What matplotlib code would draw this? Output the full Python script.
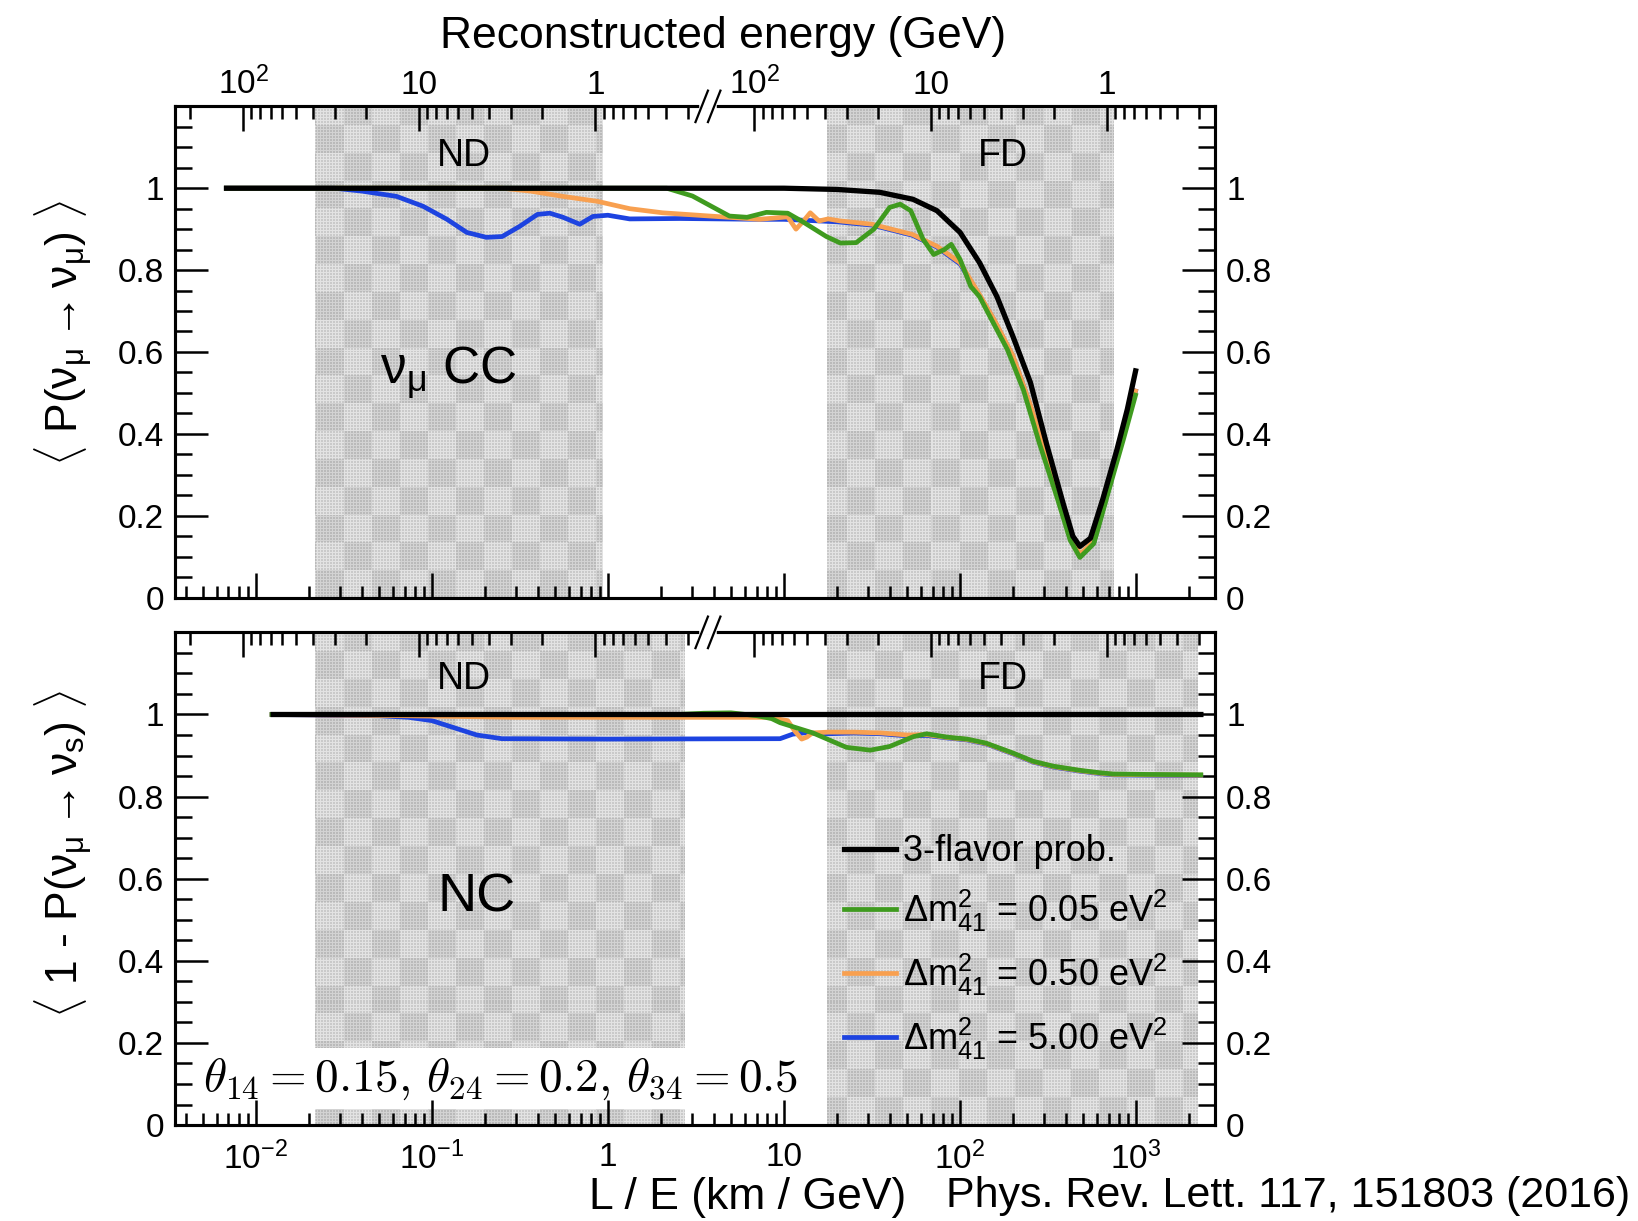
import numpy as np
import matplotlib
matplotlib.use('Agg')
import matplotlib.pyplot as plt
from matplotlib.patches import Rectangle
from matplotlib.lines import Line2D
from matplotlib.ticker import (FixedLocator, FixedFormatter, LogLocator,
                               NullFormatter, FuncFormatter)

plt.rcParams['font.family'] = ['Liberation Sans', 'DejaVu Sans']
plt.rcParams['mathtext.fontset'] = 'custom'
plt.rcParams['mathtext.rm'] = 'Liberation Sans'
plt.rcParams['mathtext.it'] = 'Liberation Sans:italic'
plt.rcParams['mathtext.bf'] = 'Liberation Sans:bold'

# ---- numu CC disappearance: L/E (km/GeV) vs <P(numu -> numu)> ----
cc_le_3f = [0.0066, 10, 20, 35, 54, 74, 100, 129, 162, 200, 251, 309, 385, 437,
            479, 550, 646, 776, 891, 1000]
cc_p_3f = [1.0, 1.0, 0.997, 0.99, 0.973, 0.945, 0.892, 0.818, 0.735, 0.637, 0.525,
           0.377, 0.23, 0.15, 0.125, 0.145, 0.24, 0.36, 0.46, 0.56]

cc_le_005 = [0.0066, 2.16, 3.02, 3.98, 4.9, 6.17, 7.94, 10.5, 12.9, 17.4, 20.9,
             25.7, 32.4, 39.8, 45.7, 52.5, 61.7, 70.8, 81.3, 89.1, 100, 115, 129,
             148, 186, 229, 282, 355, 422, 479, 575, 708, 851, 1000]
cc_p_005 = [1.0, 1.0, 0.981, 0.953, 0.932, 0.929, 0.941, 0.939, 0.917, 0.882, 0.866,
            0.867, 0.9, 0.953, 0.961, 0.945, 0.875, 0.838, 0.85, 0.863, 0.826, 0.76,
            0.735, 0.686, 0.605, 0.507, 0.377, 0.245, 0.14, 0.098, 0.132, 0.27, 0.39,
            0.50]

cc_le_050 = [0.0066, 0.251, 0.363, 0.556, 0.871, 1.33, 2.04, 3.8, 7.24, 10.5, 11.7,
             12.9, 14.1, 15.8, 17.8, 20.9, 31.6, 53.7, 74.1, 100, 129, 158, 200, 251,
             316, 398, 479, 575, 708, 851, 1000]
cc_p_050 = [1.0, 1.0, 0.993, 0.98, 0.968, 0.95, 0.94, 0.932, 0.924, 0.93, 0.90, 0.92,
            0.94, 0.92, 0.925, 0.92, 0.912, 0.887, 0.858, 0.818, 0.74, 0.675, 0.59,
            0.47, 0.33, 0.19, 0.105, 0.138, 0.278, 0.40, 0.51]

cc_le_500 = [0.0066, 0.028, 0.04, 0.0631, 0.0891, 0.122, 0.158, 0.204, 0.251, 0.316,
             0.398, 0.468, 0.556, 0.692, 0.822, 1.0, 1.33, 2.57, 7.24, 10, 20, 31.6,
             53.7, 74.1, 100, 129, 158, 200, 251, 316, 398, 479, 575, 708, 851, 1000]
cc_p_500 = [1.0, 1.0, 0.993, 0.98, 0.956, 0.924, 0.892, 0.88, 0.882, 0.907, 0.936,
            0.939, 0.929, 0.912, 0.931, 0.934, 0.925, 0.926, 0.924, 0.924, 0.918, 0.91,
            0.885, 0.856, 0.815, 0.738, 0.673, 0.588, 0.468, 0.33, 0.19, 0.10, 0.135,
            0.275, 0.40, 0.51]

# ---- NC: L/E (km/GeV) vs <1 - P(numu -> nus)> ----
nc_le_3f = [0.012, 2400]
nc_p_3f = [1.0, 1.0]

nc_le_005 = [0.012, 2.5, 3.5, 5, 7, 8.5, 9.5, 14.6, 22.6, 30.9, 39.8, 54.3, 64.6, 84,
             110, 141, 200, 260, 339, 479, 624, 741, 1150, 2400]
nc_p_005 = [1.0, 1.0, 1.003, 1.004, 0.997, 0.99, 0.98, 0.955, 0.92, 0.913, 0.922,
            0.946, 0.953, 0.945, 0.94, 0.93, 0.906, 0.886, 0.874, 0.864, 0.858, 0.855,
            0.854, 0.853]

nc_le_050 = [0.012, 0.07, 0.3, 8, 10.5, 11.5, 12.6, 13.5, 14.5, 17.8, 25, 35.5, 50,
             64.6, 84, 110, 141, 200, 260, 339, 479, 624, 741, 1150, 2400]
nc_p_050 = [1.0, 0.997, 0.993, 0.993, 0.985, 0.96, 0.94, 0.945, 0.955, 0.957, 0.957,
            0.955, 0.95, 0.951, 0.944, 0.939, 0.929, 0.905, 0.885, 0.873, 0.863, 0.857,
            0.854, 0.853, 0.852]

nc_le_500 = [0.012, 0.05, 0.074, 0.1, 0.14, 0.18, 0.25, 1, 9.5, 11.2, 13, 17.8, 25,
             35.5, 50, 64.6, 84, 110, 141, 200, 260, 339, 479, 624, 741, 1150, 2400]
nc_p_500 = [1.0, 0.997, 0.993, 0.985, 0.965, 0.95, 0.941, 0.94, 0.941, 0.952, 0.955,
            0.953, 0.955, 0.953, 0.948, 0.949, 0.943, 0.938, 0.928, 0.904, 0.884, 0.872,
            0.862, 0.856, 0.853, 0.852, 0.851]

# detector acceptance bands in L/E
cc_nd_band = (0.0216, 0.925)
cc_fd_band = (17.5, 740)
nc_nd_band = (0.0216, 2.7)
nc_fd_band = (17.5, 2230)

# reconstructed-energy axis (GeV), baselines in km, axis break in L/E
L_ND = 0.85
L_FD = 680
le_break = 3.7
e_major = [100, 10, 1]
e_major_labels = ['$10^{2}$', '10', '1']
e_minor = [200, 90, 80, 70, 60, 50, 40, 30, 20, 9, 8, 7, 6, 5, 4, 3, 2,
           0.9, 0.8, 0.7, 0.6, 0.5, 0.4, 0.3]

le_major = [1e-2, 1e-1, 1, 10, 1e2, 1e3]
le_major_labels = ['$10^{-2}$', '$10^{-1}$', '1', '10', '$10^{2}$', '$10^{3}$']
y_major = [0, 0.2, 0.4, 0.6, 0.8, 1.0]
y_minor = [i * 0.05 for i in range(24)]

legend_labels = ['3-flavor prob.',
                 r'$\Delta\mathrm{m}^{2}_{41}$ = 0.05 eV$^{2}$',
                 r'$\Delta\mathrm{m}^{2}_{41}$ = 0.50 eV$^{2}$',
                 r'$\Delta\mathrm{m}^{2}_{41}$ = 5.00 eV$^{2}$']

C_3F = 'black'
C_005 = '#3f9b1f'
C_050 = '#f8a050'
C_500 = '#1d43e0'
LW_3F = 3.8
LW_4F = 3.4
XLIM = (0.0035, 2800)
YLIM = (0, 1.2)

fig = plt.figure(figsize=(16.38, 12.21), dpi=100)
ax1 = fig.add_axes([0.1071, 0.5106, 0.6346, 0.4023])
ax2 = fig.add_axes([0.1071, 0.0786, 0.6346, 0.4035])


def fill_texture(h, w):
    # light plaid fill: coarse checker blocks with a fine grid on top
    ii, jj = np.mgrid[0:h, 0:w]
    block = ((ii // 28) + (jj // 28)) % 2
    fine = (ii % 3 == 0) | (jj % 3 == 0)
    val = np.where(block == 1, 0.73, 0.79) + np.where(fine, 0.10, 0.0)
    return np.clip(val, 0, 1)


TEX = fill_texture(495, 1040)


def shade(ax, band):
    im = ax.imshow(TEX, cmap='gray', vmin=0, vmax=1, extent=(0, 1, 0, 1),
                   transform=ax.transAxes, interpolation='nearest', aspect='auto',
                   origin='lower', zorder=0.5)
    clip = Rectangle((band[0], 0), band[1] - band[0], 1,
                     transform=ax.get_xaxis_transform())
    im.set_clip_path(clip)


def setup_panel(ax, label_bottom, label_top):
    ax.set_xscale('log')
    ax.set_xlim(*XLIM)
    ax.set_ylim(*YLIM)
    ax.xaxis.set_major_locator(FixedLocator(le_major))
    ax.xaxis.set_major_formatter(FixedFormatter(le_major_labels))
    ax.xaxis.set_minor_locator(LogLocator(base=10, subs=np.arange(2, 10), numticks=100))
    ax.xaxis.set_minor_formatter(NullFormatter())
    ax.yaxis.set_major_locator(FixedLocator(y_major))
    ax.yaxis.set_minor_locator(FixedLocator(y_minor))
    ax.yaxis.set_major_formatter(FuncFormatter(lambda v, p: f'{v:g}'))
    ax.tick_params(axis='y', which='both', direction='in', left=True, right=True,
                   labelleft=True, labelright=True, labelsize=24, width=1.8)
    ax.tick_params(axis='y', which='major', length=24, pad=8)
    ax.tick_params(axis='y', which='minor', length=12)
    ax.tick_params(axis='x', which='both', direction='in', bottom=True, top=False,
                   labelbottom=label_bottom, labelsize=24, width=1.8, pad=12)
    ax.tick_params(axis='x', which='major', length=18)
    ax.tick_params(axis='x', which='minor', length=9)
    for s in ax.spines.values():
        s.set_linewidth(2.2)

    # reconstructed energy on top: near detector left of the break, far detector right
    ax_e = ax.twiny()
    ax_e.set_xscale('log')
    ax_e.set_xlim(*XLIM)
    maj_pos, maj_lab = [], []
    for L, keep in ((L_ND, lambda v: v < le_break), (L_FD, lambda v: v > le_break)):
        for e, lab in zip(e_major, e_major_labels):
            if keep(L / e):
                maj_pos.append(L / e)
                maj_lab.append(lab)
    min_pos = [L_ND / e for e in e_minor if L_ND / e < le_break]
    min_pos += [L_FD / e for e in e_minor if L_FD / e > le_break]
    ax_e.xaxis.set_major_locator(FixedLocator(maj_pos))
    ax_e.xaxis.set_major_formatter(FixedFormatter(maj_lab))
    ax_e.xaxis.set_minor_locator(FixedLocator(min_pos))
    ax_e.xaxis.set_minor_formatter(NullFormatter())
    ax_e.tick_params(axis='x', which='both', direction='in', top=True,
                     labeltop=label_top, labelsize=24, width=1.8, pad=4)
    ax_e.tick_params(axis='x', which='major', length=18)
    ax_e.tick_params(axis='x', which='minor', length=9)
    for s in ax_e.spines.values():
        s.set_linewidth(2.2)

    # break marks on the energy axis
    xb = (np.log10(le_break) - np.log10(XLIM[0])) / (np.log10(XLIM[1]) - np.log10(XLIM[0]))
    ax_e.plot([xb - 0.006, xb + 0.006], [1.0, 1.0], transform=ax_e.transAxes,
              color='white', lw=4, clip_on=False, zorder=5)
    for dx in (-0.006, 0.006):
        ax_e.plot([xb + dx - 0.006, xb + dx + 0.006], [0.968, 1.032],
                  transform=ax_e.transAxes, color='black', lw=1.6,
                  clip_on=False, zorder=6)
    return ax_e


def draw_curves(ax, series):
    for le, p, c, lw in series:
        ax.plot(le, p, color=c, lw=lw, solid_joinstyle='round',
                solid_capstyle='butt', zorder=2)


# top panel: numu CC
shade(ax1, cc_nd_band)
shade(ax1, cc_fd_band)
draw_curves(ax1, [(cc_le_500, cc_p_500, C_500, LW_4F),
                  (cc_le_050, cc_p_050, C_050, LW_4F),
                  (cc_le_005, cc_p_005, C_005, LW_4F),
                  (cc_le_3f, cc_p_3f, C_3F, LW_3F)])
ax1_e = setup_panel(ax1, label_bottom=False, label_top=True)
ax1.set_ylabel(r'$\langle$ P($\mathrm{ν}_{\mathrm{μ}}\rightarrow\mathrm{ν}_{\mathrm{μ}}$) $\rangle$',
               fontsize=32)
ax1.yaxis.set_label_coords(-0.077, 0.54)
ax1_e.set_xlabel('Reconstructed energy (GeV)', fontsize=32)
ax1_e.xaxis.set_label_coords(0.527, 1.118)
ax1.text(0.152, 1.078, 'ND', fontsize=27, ha='center', va='center')
ax1.text(175, 1.078, 'FD', fontsize=27, ha='center', va='center')
ax1.text(0.125, 0.55, r'$\mathrm{ν}_{\mathrm{μ}}$ CC', fontsize=37, ha='center',
         va='center')

# bottom panel: NC
shade(ax2, nc_nd_band)
shade(ax2, nc_fd_band)
draw_curves(ax2, [(nc_le_500, nc_p_500, C_500, LW_4F),
                  (nc_le_050, nc_p_050, C_050, LW_4F),
                  (nc_le_005, nc_p_005, C_005, LW_4F),
                  (nc_le_3f, nc_p_3f, C_3F, LW_3F)])
setup_panel(ax2, label_bottom=True, label_top=False)
ax2.set_ylabel(r'$\langle$ 1 - P($\mathrm{ν}_{\mathrm{μ}}\rightarrow\mathrm{ν}_{\mathrm{s}}$) $\rangle$',
               fontsize=32)
ax2.yaxis.set_label_coords(-0.077, 0.55)
ax2.set_xlabel('L / E (km / GeV)', fontsize=32)
ax2.xaxis.set_label_coords(0.55, -0.105)
ax2.text(0.152, 1.086, 'ND', fontsize=27, ha='center', va='center')
ax2.text(175, 1.086, 'FD', fontsize=27, ha='center', va='center')
ax2.text(0.18, 0.553, 'NC', fontsize=39, ha='center', va='center')

# mixing-angle box
ax2.add_patch(Rectangle((0, 0.032), 0.62, 0.125, transform=ax2.transAxes,
                        facecolor='white', edgecolor='none', zorder=1))
ax2.text(0.027, 0.093, r'$\theta_{14} = 0.15,\, \theta_{24} = 0.2,\, \theta_{34} = 0.5$',
         transform=ax2.transAxes, fontsize=34, math_fontfamily='cm',
         ha='left', va='center', zorder=3)

handles = [Line2D([], [], color=c, lw=LW_3F if c == C_3F else LW_4F)
           for c in (C_3F, C_005, C_050, C_500)]
ax2.legend(handles, legend_labels, loc='upper left', bbox_to_anchor=(0.643, 0.59),
           frameon=False, fontsize=26, handlelength=1.45, handletextpad=0.2,
           labelspacing=0.5, borderpad=0, borderaxespad=0)

fig.text(0.995, 0.0205, 'Phys. Rev. Lett. 117, 151803 (2016)', fontsize=31,
         ha='right', va='center')

fig.savefig('out.png', dpi=100)
